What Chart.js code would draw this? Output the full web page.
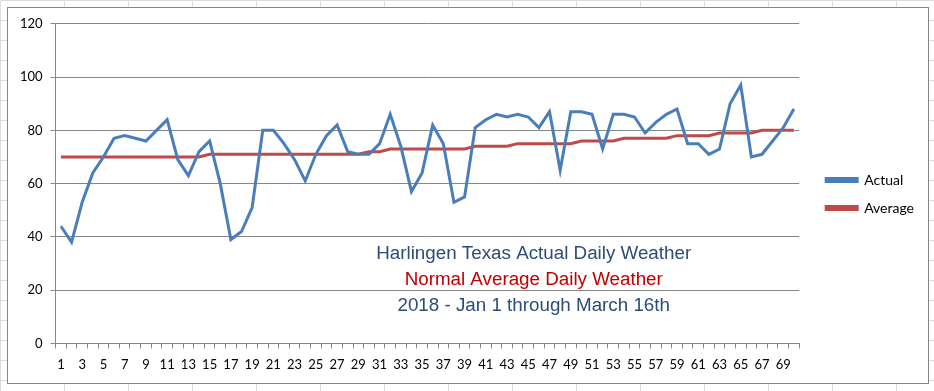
<!DOCTYPE html>
<html>
<head>
<meta charset="utf-8">
<script src="https://cdn.jsdelivr.net/npm/chart.js@4/dist/chart.umd.min.js"></script>
<style>
  html, body { margin: 0; padding: 0; }
  body {
    width: 934px;
    height: 391px;
    overflow: hidden;
    background-color: #fff;
    background-image:
      linear-gradient(to right, #dadcdd 1px, transparent 1px),
      linear-gradient(to bottom, #dadcdd 1px, transparent 1px);
    background-size: 64px 20px;
    position: relative;
  }
  #box {
    position: absolute;
    left: 7px;
    top: 7px;
    width: 920px;
    height: 375px;
    border: 1px solid #868686;
    background: #fff;
  }
</style>
</head>
<body>
<div id="box"><canvas id="weatherChart" width="920" height="375"></canvas></div>
<script>
const days = Array.from({ length: 70 }, (_, i) => String(i + 1));

const actual = [
  44, 38, 53, 64, 70, 77, 78, 77, 76, 80,
  84, 69, 63, 72, 76, 60, 39, 42, 51, 80,
  80, 75, 69, 61, 71, 78, 82, 72, 71, 71,
  75, 86, 74, 57, 64, 82, 75, 53, 55, 81,
  84, 86, 85, 86, 85, 81, 87, 65, 87, 87,
  86, 73, 86, 86, 85, 79, 83, 86, 88, 75,
  75, 71, 73, 90, 97, 70, 71, 76, 81, 88,
];

const average = [
  70, 70, 70, 70, 70, 70, 70, 70, 70, 70,
  70, 70, 70, 70, 71, 71, 71, 71, 71, 71,
  71, 71, 71, 71, 71, 71, 71, 71, 71, 72,
  72, 73, 73, 73, 73, 73, 73, 73, 73, 74,
  74, 74, 74, 75, 75, 75, 75, 75, 75, 76,
  76, 76, 76, 77, 77, 77, 77, 77, 78, 78,
  78, 78, 79, 79, 79, 79, 80, 80, 80, 80,
];

const yTicks = [0, 20, 40, 60, 80, 100, 120];

const noteLines = [
  { text: "Harlingen Texas Actual Daily Weather", color: "#2c4d78" },
  { text: "Normal Average Daily Weather", color: "#c00000" },
  { text: "2018 - Jan 1 through March 16th", color: "#2c4d78" },
];

// three lines of text sitting inside the plot, like the Excel text box
const notePlugin = {
  id: "note",
  afterLayout(chart) {
    // nudge the legend up a little, Excel centres it a bit higher
    chart.legend.bottom -= 8;
  },
  afterDatasetsDraw(chart) {
    const { ctx, chartArea } = chart;
    ctx.save();
    ctx.font = '18.8px "Liberation Sans", Arial, sans-serif';
    ctx.textAlign = "center";
    ctx.textBaseline = "middle";
    const x = chartArea.left + 0.643 * (chartArea.right - chartArea.left);
    const y0 = chart.scales.y.getPixelForValue(33.5);
    noteLines.forEach((line, i) => {
      ctx.fillStyle = line.color;
      ctx.fillText(line.text, x, y0 + i * 26);
    });
    ctx.restore();
  },
};

new Chart(document.getElementById("weatherChart"), {
  type: "line",
  data: {
    labels: days,
    datasets: [
      {
        label: "Actual",
        data: actual,
        borderColor: "#4a7ebb",
        backgroundColor: "#4a7ebb",
        borderWidth: 3,
        pointRadius: 0,
        tension: 0,
      },
      {
        label: "Average",
        data: average,
        borderColor: "#be4b48",
        backgroundColor: "#be4b48",
        borderWidth: 3,
        pointRadius: 0,
        tension: 0,
      },
    ],
  },
  options: {
    responsive: false,
    animation: false,
    layout: {
      padding: { top: 6, right: 4, bottom: 1, left: 4 },
    },
    plugins: {
      legend: {
        position: "right",
        labels: {
          boxWidth: 31,
          boxHeight: 3,
          padding: 14,
          color: "#000",
          font: { family: "Lato, 'Open Sans', sans-serif", size: 14 },
        },
      },
      tooltip: { enabled: false },
    },
    scales: {
      x: {
        offset: true,
        grid: {
          offset: true,
          drawOnChartArea: false,
          drawTicks: true,
          tickLength: 5,
          color: "#868686",
        },
        border: { color: "#868686" },
        ticks: {
          autoSkip: false,
          maxRotation: 0,
          padding: 9,
          color: "#000",
          font: { family: "Lato, 'Open Sans', sans-serif", size: 13 },
          callback: (val, i) => (i % 2 === 0 ? days[i] : ""),
        },
      },
      y: {
        min: 0,
        max: 120,
        afterBuildTicks: (axis) => {
          axis.ticks = yTicks.map((v) => ({ value: v }));
        },
        grid: {
          color: "#868686",
          tickLength: 5,
        },
        border: { color: "#868686" },
        ticks: {
          padding: 8,
          color: "#000",
          font: { family: "Lato, 'Open Sans', sans-serif", size: 13 },
        },
      },
      // empty axis only used as a gap between the plot and the legend
      gap: {
        position: "right",
        min: 0,
        max: 1,
        grid: { display: false },
        border: { display: false },
        ticks: { display: false },
        afterFit: (axis) => {
          axis.width = 13;
        },
      },
    },
  },
  plugins: [notePlugin],
});
</script>
</body>
</html>
